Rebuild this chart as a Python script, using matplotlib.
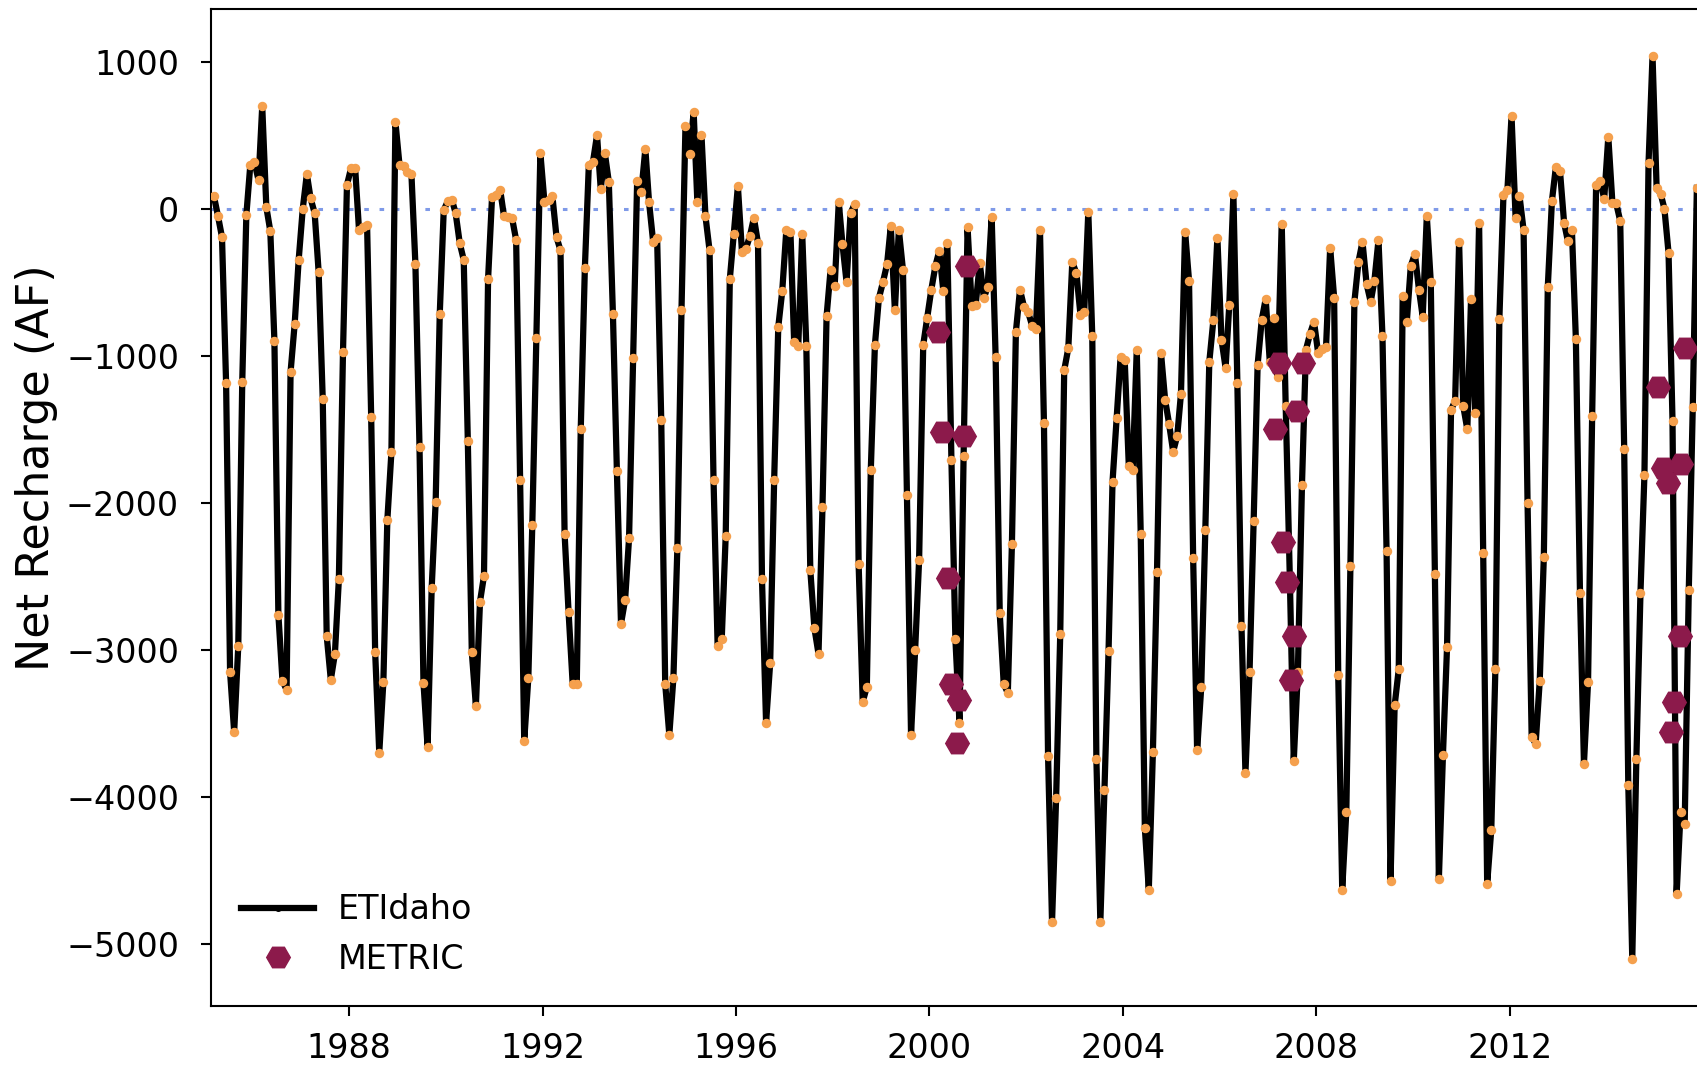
import matplotlib
matplotlib.use('Agg')
import matplotlib.pyplot as plt
import matplotlib.dates as mdates
import pandas as pd

# miesieczne wartosci ETIdaho (srodek miesiaca), od marca 1985
ETIDAHO_START = '1985-03-01'
etidaho_values = [
    86, -49, -192, -1183, -3150, -3558, -2974, -1179, -41, 300,                      # 1985 (III-XII)
    318, 196, 698, 12, -151, -898, -2762, -3211, -3272, -1110, -783, -350,           # 1986
    0, 237, 73, -29, -428, -1293, -2905, -3203, -3027, -2517, -975, 163,             # 1987
    277, 277, -143, -120, -110, -1416, -3015, -3700, -3219, -2118, -1652, 592,       # 1988
    298, 290, 250, 237, -375, -1620, -3223, -3660, -2579, -1995, -714, -8,           # 1989
    53, 61, -29, -233, -347, -1579, -3015, -3382, -2672, -2497, -477, 82,            # 1990
    94, 126, -49, -55, -61, -212, -1844, -3620, -3191, -2150, -877, 379,             # 1991
    45, 61, 86, -192, -282, -2211, -2742, -3231, -3231, -1497, -404, 298,            # 1992
    318, 502, 135, 379, 184, -714, -1783, -2823, -2660, -2240, -1016, 188,           # 1993
    114, 408, 45, -224, -200, -1436, -3231, -3578, -3191, -2305, -690, 563,          # 1994
    371, 657, 45, 502, -49, -282, -1844, -2974, -2925, -2224, -477, -171,            # 1995
    155, -294, -273, -184, -61, -233, -2517, -3497, -3088, -1844, -804, -559,        # 1996
    -143, -159, -906, -934, -171, -934, -2456, -2852, -3027, -2028, -730, -416,      # 1997
    -526, 45, -241, -498, -29, 33, -2415, -3354, -3252, -1775, -926, -608,           # 1998
    -498, -375, -118, -690, -143, -416, -1946, -3578, -2999, -2387, -926, -743,      # 1999
    -550, -388, -287, -559, -232, -1706, -2925, -3500, -1680, -126, -660, -655,      # 2000
    -370, -605, -534, -55, -1008, -2752, -3231, -3294, -2280, -836, -550, -665,      # 2001
    -700, -796, -816, -143, -1457, -3721, -4851, -4007, -2893, -1098, -947, -363,    # 2002
    -437, -722, -702, -20, -865, -3741, -4851, -3953, -3007, -1856, -1424, -1008,    # 2003
    -1028, -1750, -1775, -959, -2211, -4211, -4631, -3692, -2468, -979, -1297, -1461,  # 2004
    -1652, -1542, -1257, -155, -490, -2375, -3684, -3256, -2183, -1040, -755, -196,  # 2005
    -889, -1081, -653, 102, -1183, -2836, -3835, -3150, -2122, -1061, -755, -612,    # 2006
    -1040, -743, -1142, -102, -1338, -2500, -3754, -3150, -1877, -959, -849, -767,   # 2007
    -979, -950, -938, -265, -604, -3174, -4631, -4100, -2428, -632, -359, -224,      # 2008
    -510, -632, -490, -212, -865, -2326, -4570, -3378, -3133, -592, -767, -388,      # 2009
    -306, -551, -734, -49, -498, -2481, -4561, -3713, -2978, -1367, -1306, -224,     # 2010
    -1340, -1500, -615, -1386, -94, -2343, -4590, -4223, -3133, -751, 95, 130,       # 2011
    632, -64, 90, -144, -1999, -3590, -3640, -3211, -2366, -530, 53, 286,            # 2012
    257, -94, -216, -143, -885, -2611, -3774, -3219, -1408, 163, 192, 69,            # 2013
    490, 41, 41, -82, -1632, -3917, -5100, -3741, -2611, -1807, 314, 1040,           # 2014
    143, 102, 0, -298, -1440, -4663, -4100, -4182, -2590, -1346, 143,                # 2015
]

# daty zdjec METRIC
metric_dates = [
    '2000-03-07', '2000-04-08', '2000-05-22', '2000-06-14',
    '2000-07-24', '2000-08-11', '2000-09-21', '2000-10-09',
    '2007-02-24', '2007-03-23', '2007-04-23', '2007-05-27',
    '2007-06-25', '2007-07-20', '2007-08-08', '2007-09-24',
    '2015-01-26', '2015-03-07', '2015-04-09', '2015-05-05',
    '2015-05-23', '2015-07-09', '2015-07-16', '2015-08-19',
]
metric_values = [
    -838, -1517, -2512, -3231, -3634, -3344, -1542, -388,
    -1498, -1049, -2265, -2538, -3203, -2905, -1375, -1049,
    -1212, -1763, -1865, -3558, -3354, -2905, -1734, -947,
]

ytick_values = [1000, 0, -1000, -2000, -3000, -4000, -5000]


def plot_recharge():
    dates = pd.date_range(ETIDAHO_START, periods=len(etidaho_values), freq='MS') + pd.Timedelta(days=14)

    fig = plt.figure(figsize=(16.97, 10.70), dpi=100)
    ax = fig.add_axes([211 / 1697, 64 / 1070, 1 - 211 / 1697, 997 / 1070])

    # linia zera
    ax.axhline(0, color='#7f9ae8', linestyle=(0, (1.5, 3.5)), lw=2.2, zorder=1)

    ax.plot(dates, etidaho_values, color='black', lw=4.5, marker='.', markersize=8,
            label='ETIdaho', zorder=2)
    ax.plot(dates, etidaho_values, linestyle='none', marker='o', markersize=5.8,
            color='#f5a04d', zorder=3)
    ax.plot(pd.to_datetime(metric_dates), metric_values, linestyle='none', marker='H',
            markersize=17, color='#8c1a4b', label='METRIC', zorder=4)

    ax.set_xlim(pd.Timestamp('1985-02-21'), pd.Timestamp('2015-11-16'))
    ax.set_ylim(-5423, 1360)
    ax.set_yticks(ytick_values)
    ax.xaxis.set_major_locator(mdates.YearLocator(4))
    ax.xaxis.set_major_formatter(mdates.DateFormatter('%Y'))

    ax.tick_params(axis='both', labelsize=24, length=7, width=1.5)
    ax.tick_params(axis='y', pad=16)
    ax.tick_params(axis='x', pad=12)
    for side in ['left', 'bottom', 'top']:
        ax.spines[side].set_linewidth(1.5)
    ax.spines['right'].set_visible(False)

    ax.set_ylabel('Net Recharge (AF)', fontsize=32)
    ax.yaxis.set_label_coords(-0.103, 0.54)

    ax.legend(loc='lower left', frameon=False, fontsize=24, handlelength=2.2,
              handletextpad=0.7)

    fig.savefig('out.png', dpi=100)


if __name__ == '__main__':
    plot_recharge()
